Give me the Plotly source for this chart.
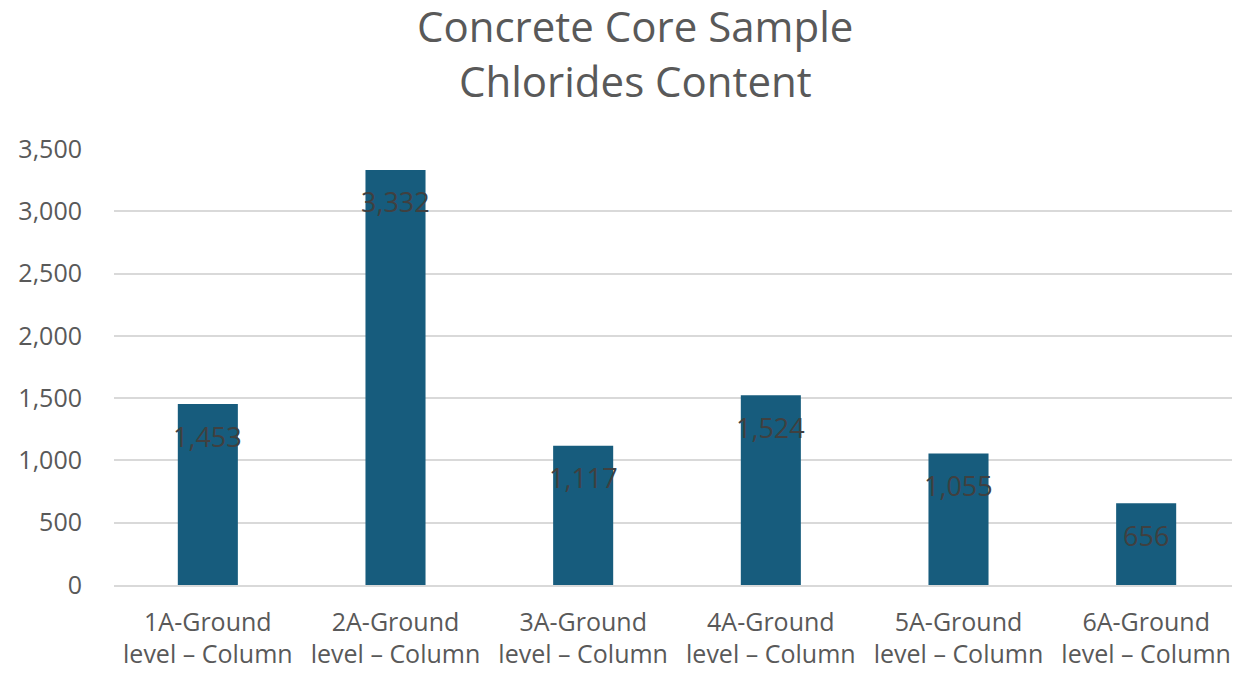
import plotly.graph_objects as go

categories = ["1A-Ground<br>level – Column", "2A-Ground<br>level – Column", "3A-Ground<br>level – Column",
              "4A-Ground<br>level – Column", "5A-Ground<br>level – Column", "6A-Ground<br>level – Column"]
values = [1453, 3332, 1117, 1524, 1055, 656]
title_lines = ["Concrete Core Sample", "Chlorides Content"]

FONT = "Open Sans, sans-serif"

fig = go.Figure()
fig.add_trace(go.Bar(x=categories, y=values, marker=dict(color="#175C7D", line=dict(width=0)),
                     width=0.32, hoverinfo="x+y"))

for c, v in zip(categories, values):
    fig.add_annotation(x=c, y=v, text=f"{v:,}", showarrow=False, yshift=-32,
                       font=dict(family=FONT, size=27, color="#404040"))

# two-line chart title, centred above the plot
for i, line in enumerate(title_lines):
    fig.add_annotation(xref="paper", yref="paper", x=0.463, y=1.0, yshift=560 - 55 * i,
                       xanchor="center", yanchor="middle", showarrow=False, text=line,
                       font=dict(family=FONT, size=42, color="#595959"))

fig.update_layout(
    width=1232, height=665,
    paper_bgcolor="white", plot_bgcolor="white",
    margin=dict(l=106, r=0, t=141, b=88, autoexpand=False),
    showlegend=False,
    bargap=0.68,
)
# yshift above is measured from the plot bottom; convert to paper-relative
for ann in fig.layout.annotations[len(values):]:
    ann.y = 0.0
fig.update_yaxes(range=[0, 3500], dtick=500, tickformat=",", showgrid=True, gridcolor="#D9D9D9",
                 gridwidth=1.5, zeroline=False, showline=False, automargin=False,
                 ticks="outside", ticklen=26, tickcolor="rgba(0,0,0,0)",
                 tickfont=dict(family=FONT, size=25, color="#595959"))
fig.update_xaxes(showline=True, linecolor="#D9D9D9", linewidth=1.5, showgrid=False, automargin=False,
                 ticks="outside", ticklen=14, tickcolor="rgba(0,0,0,0)",
                 tickfont=dict(family=FONT, size=25, color="#595959"))

fig.write_html("out.html")
